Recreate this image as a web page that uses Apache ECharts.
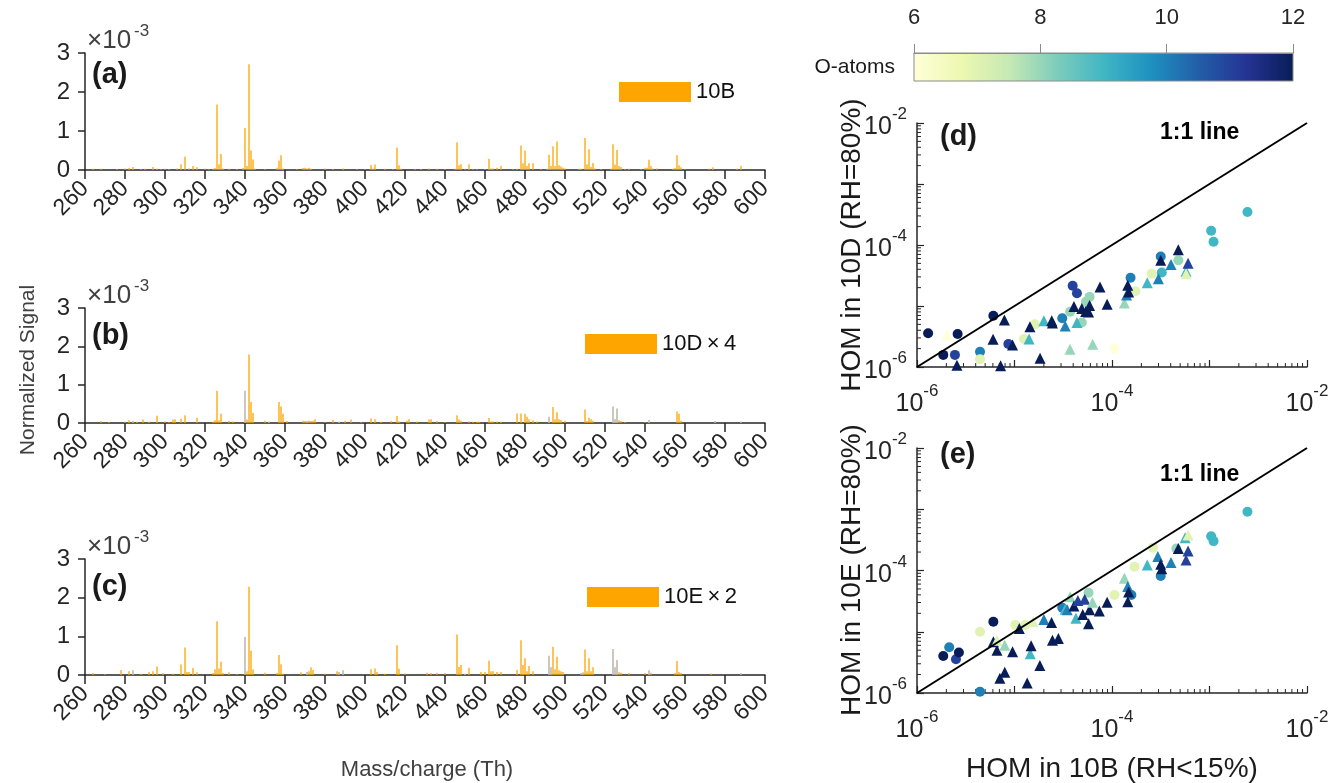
<!DOCTYPE html>
<html><head><meta charset="utf-8">
<script src="https://cdn.jsdelivr.net/npm/echarts@6/dist/echarts.min.js"></script>
<style>html,body{margin:0;padding:0;background:#fff}#c{width:1336px;height:783px}</style>
</head><body><div id="c"></div><script>
// ---------------- DATA ----------------
// Mass spectra, values in units of 1e-3 (normalized signal)
const spec10B = [[264,0.03],[268,0.03],[276,0.02],[280,0.04],[282,0.05],[284,0.08],[288,0.02],[290,0.03],[294,0.08],[296,0.03],[298,0.02],[300,0.03],[302,0.02],[306,0.04],[308,0.15],[310,0.34],[312,0.04],[314,0.1],[316,0.07],[320,0.03],[322,0.02],[324,0.03],[325,0.05],[326,1.68],[327,0.15],[328,0.41],[329,0.04],[332,0.03],[336,0.02],[339,0.05],[340,1.08],[341,0.1],[342,2.71],[343,0.5],[344,0.27],[345,0.03],[350,0.02],[356,0.06],[357,0.24],[358,0.38],[359,0.04],[366,0.02],[369,0.05],[370,0.06],[371,0.04],[372,0.06],[373,0.03],[380,0.04],[384,0.02],[389,0.04],[396,0.02],[400,0.02],[403,0.13],[404,0.03],[405,0.14],[410,0.03],[414,0.02],[416,0.58],[417,0.12],[418,0.03],[425,0.02],[428,0.02],[432,0.04],[436,0.03],[440,0.02],[445,0.03],[446,0.71],[447,0.12],[448,0.15],[450,0.02],[452,0.15],[454,0.02],[456,0.02],[460,0.02],[462,0.29],[463,0.04],[464,0.04],[466,0.06],[468,0.1],[474,0.02],[476,0.03],[478,0.63],[479,0.17],[480,0.5],[481,0.1],[482,0.17],[484,0.17],[488,0.02],[491,0.03],[492,0.39],[493,0.1],[494,0.61],[495,0.1],[496,0.73],[497,0.12],[498,0.09],[499,0.06],[500,0.04],[507,0.03],[508,0.03],[510,0.82],[511,0.15],[512,0.53],[513,0.08],[514,0.18],[515,0.04],[518,0.02],[523,0.03],[524,0.66],[525,0.14],[526,0.51],[527,0.1],[528,0.08],[530,0.02],[532,0.03],[538,0.02],[540,0.05],[541,0.06],[542,0.26],[543,0.1],[544,0.04],[546,0.04],[554,0.03],[555,0.05],[556,0.38],[557,0.12],[558,0.07],[560,0.02],[572,0.03],[574,0.07],[586,0.03],[588,0.1]];

const spec10D = [[268,0.05],[272,0.02],[280,0.03],[282,0.07],[286,0.03],[289,0.09],[292,0.03],[296,0.19],[300,0.04],[302,0.02],[304,0.09],[305,0.1],[308,0.11],[310,0.2],[316,0.14],[324,0.03],[325,0.07],[326,0.84],[327,0.07],[328,0.24],[332,0.06],[334,0.04],[341,0.09],[342,1.79],[343,0.55],[344,0.26],[350,0.06],[357,0.55],[358,0.43],[359,0.24],[361,0.05],[369,0.06],[370,0.05],[372,0.06],[373,0.05],[374,0.06],[375,0.1],[380,0.02],[384,0.08],[390,0.05],[393,0.09],[398,0.02],[403,0.12],[405,0.1],[408,0.03],[413,0.05],[416,0.18],[417,0.04],[421,0.06],[422,0.1],[426,0.04],[432,0.09],[433,0.1],[436,0.05],[440,0.02],[446,0.2],[447,0.09],[448,0.06],[452,0.04],[454,0.03],[456,0.03],[457,0.03],[462,0.13],[463,0.04],[464,0.04],[466,0.04],[468,0.03],[476,0.25],[478,0.25],[480,0.24],[481,0.16],[482,0.1],[484,0.07],[486,0.04],[494,0.42],[495,0.1],[496,0.28],[497,0.1],[498,0.08],[500,0.06],[510,0.35],[511,0.05],[512,0.14],[513,0.1],[514,0.06],[527,0.07],[528,0.05],[530,0.02],[540,0.02],[556,0.3],[557,0.24],[558,0.06]];
const spec10Dgray = [[284,0.05],[340,0.84],[352,0.04],[371,0.05],[387,0.03],[492,0.16],[524,0.43],[525,0.1],[526,0.38],[542,0.08],[575,0.05],[588,0.04]];

const spec10E = [[264,0.05],[270,0.02],[278,0.13],[282,0.1],[288,0.03],[292,0.08],[294,0.1],[296,0.22],[299,0.05],[304,0.03],[308,0.27],[310,0.71],[311,0.08],[312,0.08],[314,0.18],[316,0.07],[324,0.05],[325,0.15],[326,1.39],[327,0.17],[328,0.34],[329,0.05],[332,0.07],[336,0.02],[341,0.1],[342,2.28],[343,0.63],[344,0.14],[350,0.06],[356,0.05],[357,0.52],[358,0.28],[359,0.03],[368,0.07],[372,0.1],[373,0.2],[374,0.13],[380,0.03],[386,0.1],[403,0.15],[405,0.17],[406,0.08],[410,0.03],[416,0.77],[417,0.16],[420,0.04],[431,0.06],[433,0.05],[436,0.06],[440,0.05],[446,1.05],[447,0.21],[448,0.26],[452,0.19],[458,0.08],[460,0.08],[462,0.37],[463,0.1],[464,0.1],[466,0.08],[468,0.08],[476,0.13],[478,0.9],[479,0.26],[480,0.43],[481,0.1],[482,0.23],[484,0.1],[494,0.73],[495,0.15],[496,0.47],[497,0.12],[498,0.1],[499,0.08],[510,0.66],[511,0.1],[512,0.43],[513,0.1],[514,0.2],[527,0.07],[528,0.06],[532,0.05],[540,0.05],[543,0.06],[555,0.05],[556,0.36],[557,0.08],[558,0.05],[573,0.04]];
const spec10Egray = [[284,0.12],[340,0.98],[371,0.08],[387,0.08],[389,0.12],[450,0.03],[492,0.5],[493,0.2],[508,0.05],[509,0.07],[524,0.67],[525,0.2],[526,0.39],[542,0.12],[588,0.05]];

// Scatter: [HOM in 10B, HOM in 10D or 10E, O-atoms]
const dCircles = [[1.3e-6,3.57e-6,12],[2.61e-6,3.47e-6,12],[1.86e-6,1.58e-6,12],[2.45e-6,1.58e-6,11],[4.43e-6,1.78e-6,10],[4.43e-6,1.34e-6,7],[6.07e-6,6.93e-6,12],[8.65e-6,2.38e-6,11],[1.25e-5,2.88e-6,7],[1.62e-5,5.0e-6,7],[3.09e-5,6.31e-6,10],[3.72e-5,8.05e-6,8],[3.95e-5,2.15e-5,11],[4.37e-5,1.62e-5,11],[4.9e-5,5.37e-6,8],[5.41e-5,1.17e-5,8],[5.89e-5,1.41e-5,8],[1.06e-4,2.0e-6,6],[1.55e-4,2.91e-5,10],[1.74e-4,1.74e-5,7],[2.55e-4,3.39e-5,7],[3.16e-4,6.46e-5,10],[3.24e-4,3.55e-5,9],[4.79e-4,5.62e-5,8],[1.04e-3,1.71e-4,9],[1.1e-3,1.13e-4,9],[2.45e-3,3.47e-4,9]];
const dTriangles = [[2.02e-6,3.35e-6,6],[2.57e-6,1.07e-6,12],[7.87e-6,5.89e-6,12],[6.03e-6,2.84e-6,12],[7.21e-6,1.05e-6,12],[9.55e-6,2.29e-6,12],[1.41e-5,2.88e-6,9],[1.44e-5,4.57e-6,12],[1.83e-5,1.39e-6,12],[2.0e-5,5.75e-6,9],[2.41e-5,5.75e-6,12],[2.45e-5,5.25e-6,12],[3.31e-5,4.68e-6,10],[3.71e-5,1.95e-6,8],[4.07e-5,9.77e-6,12],[4.37e-5,5.37e-6,9],[4.9e-5,9.12e-6,12],[5.37e-5,8.13e-6,12],[5.89e-5,1.02e-5,12],[5.75e-5,7.94e-6,12],[6.34e-5,2.36e-6,8],[7.53e-5,2.04e-5,12],[8.91e-5,1.07e-5,12],[1.34e-4,1.12e-5,8],[1.41e-4,1.51e-5,10],[1.45e-4,2.19e-5,12],[1.48e-4,1.7e-5,12],[2.3e-4,2.41e-5,9],[2.99e-4,2.79e-5,10],[3.16e-4,5.62e-5,12],[4.03e-4,4.79e-5,10],[4.79e-4,8.32e-5,12],[5.74e-4,3.72e-5,9],[5.75e-4,3.39e-5,7],[6.03e-4,5.01e-5,11]];
const eCircles = [[1.86e-6,4.02e-6,12],[2.14e-6,5.57e-6,10],[2.51e-6,3.55e-6,11],[2.69e-6,4.57e-6,12],[4.43e-6,1.05e-6,10],[4.43e-6,1.0e-5,7],[6.07e-6,1.46e-5,12],[1.02e-5,1.29e-5,7],[1.29e-5,1.29e-5,7],[3.09e-5,2.47e-5,10],[5.75e-5,4.34e-5,8],[1.06e-4,3.98e-5,7],[1.58e-4,3.98e-5,10],[1.7e-4,1.15e-4,7],[2.63e-4,2.36e-4,7],[3.16e-4,8.13e-5,10],[4.57e-4,2.29e-4,8],[1.04e-3,3.63e-4,9],[1.1e-3,3.02e-4,9],[2.45e-3,9.12e-4,9]];
const eTriangles = [[6.07e-6,6.87e-6,12],[6.61e-6,5.01e-6,12],[6.61e-6,7.24e-6,7],[7.94e-6,6.03e-6,8],[7.94e-6,2.19e-6,12],[7.08e-6,1.74e-6,12],[9.55e-6,4.72e-6,12],[1.12e-5,1.13e-5,12],[1.35e-5,1.45e-6,12],[1.45e-5,4.37e-6,9],[1.48e-5,5.89e-6,12],[1.55e-5,1.45e-5,7],[1.82e-5,2.82e-6,12],[2.0e-5,1.58e-5,10],[2.4e-5,1.41e-5,12],[2.45e-5,7.24e-6,12],[2.82e-5,7.76e-6,12],[3.31e-5,2.34e-5,9],[3.72e-5,3.73e-5,8],[3.47e-5,2.29e-5,10],[4.07e-5,2.63e-5,12],[4.27e-5,1.66e-5,9],[4.47e-5,3.24e-5,11],[5.01e-5,1.91e-5,12],[5.25e-5,3.39e-5,11],[5.89e-5,2.29e-5,12],[5.75e-5,1.35e-5,12],[6.31e-5,3.02e-5,8],[7.41e-5,2.19e-5,12],[8.91e-5,3.02e-5,12],[1.34e-4,7.46e-5,8],[1.45e-4,5.5e-5,10],[1.45e-4,3.09e-5,12],[1.48e-4,4.47e-5,12],[2.3e-4,1.23e-4,9],[2.95e-4,1.7e-4,10],[3.16e-4,1.26e-4,12],[3.24e-4,1.07e-4,12],[4.03e-4,1.35e-4,10],[4.79e-4,2.29e-4,12],[5.62e-4,3.44e-4,9],[6.03e-4,3.8e-4,7],[6.03e-4,2.09e-4,11],[5.75e-4,1.48e-4,11]];

const oneToOne = [[1e-6,1e-6],[1e-2,1e-2]];
const decadeStarts = [1e-6,1e-5,1e-4,1e-3];
const minorMultipliers = [2,3,4,5,6,7,8,9];
const ylgnbu = ['#ffffd9','#edf8b1','#c7e9b4','#7fcdbb','#41b6c4','#1d91c0','#225ea8','#253494','#081d58'];

// ---------------- STYLE ----------------
const FONT = '"Liberation Sans", Arial, Helvetica, sans-serif';
const AX = '#262626';
const ORANGE = '#FFA500';
const GRAY = '#bdb9ad';

const minorVals = [];
decadeStarts.forEach(d => minorMultipliers.forEach(m => minorVals.push([m*d, m*d])));

const supRich = {
  b:{fontSize:25, lineHeight:34, verticalAlign:'bottom', color:AX, fontFamily:FONT},
  s:{fontSize:17, lineHeight:15, verticalAlign:'top', color:AX, fontFamily:FONT}
};
function supFmt(v){
  const e = Math.round(Math.log10(v));
  if (e % 2 !== 0) return '';
  return '{b|10}{s|' + e + '}';
}

function barX(gi){
  return {type:'value', gridIndex:gi, min:260, max:600, interval:20,
    axisLine:{show:true,onZero:false,lineStyle:{color:AX,width:1.5}},
    axisTick:{show:true,length:9,lineStyle:{color:AX,width:1.5}},
    axisLabel:{rotate:45, margin:15, fontSize:23, color:AX, fontFamily:FONT},
    splitLine:{show:false}};
}
function barY(gi){
  return {type:'value', gridIndex:gi, min:0, max:3, interval:1,
    axisLine:{show:true,onZero:false,lineStyle:{color:AX,width:1.5}},
    axisTick:{show:true,length:7,lineStyle:{color:AX,width:1.5}},
    axisLabel:{margin:15, fontSize:24, color:AX, fontFamily:FONT},
    splitLine:{show:false}};
}
function logAx(gi, isX){
  return {type:'log', logBase:10, gridIndex:gi, min:1e-6, max:1e-2,
    axisLine:{show:true,onZero:false,lineStyle:{color:AX,width:1.5}},
    axisTick:{show:true,inside:true,length:7,lineStyle:{color:AX,width:1.2}},
    axisLabel:{formatter:supFmt, rich:supRich, margin: isX ? 16 : 10, color:AX},
    splitLine:{show:false}};
}
function barSeries(name, gi, data, color, opacity){
  return {type:'bar', name:name, xAxisIndex:gi, yAxisIndex:gi, data:data, barWidth:1.6, barGap:'-100%',
    itemStyle:{color:color, opacity:opacity}, silent:true, animation:false};
}
function scatterSeries(name, gi, data, symbol, size){
  return {type:'scatter', name:name, xAxisIndex:gi, yAxisIndex:gi, data:data, symbol:symbol, symbolSize:size,
    clip:false, itemStyle:{opacity:1}, animation:false};
}
function lineSeries(gi){
  return {type:'line', name:'1:1', xAxisIndex:gi, yAxisIndex:gi, data:oneToOne, symbol:'none',
    lineStyle:{color:'#000', width:2}, silent:true, animation:false};
}
function minorSeries(gi){
  return {type:'custom', name:'minor'+gi, xAxisIndex:gi, yAxisIndex:gi, data:minorVals, silent:true, clip:false,
    animation:false,
    renderItem:function(params, api){
      const v = api.value(0);
      const px = api.coord([v, 1e-6]);
      const py = api.coord([1e-6, v]);
      return {type:'group', children:[
        {type:'line', shape:{x1:px[0],y1:px[1],x2:px[0],y2:px[1]-4}, style:{stroke:AX,lineWidth:1}},
        {type:'line', shape:{x1:py[0],y1:py[1],x2:py[0]+4,y2:py[1]}, style:{stroke:AX,lineWidth:1}}
      ]};
    }};
}
function legendFor(name, left, top){
  return {data:[name], left:left, top:top, itemWidth:72, itemHeight:20, padding:0, icon:'rect',
    selectedMode:false, itemStyle:{color:ORANGE, opacity:1},
    textStyle:{fontSize:22, color:'#111', fontFamily:FONT}};
}
function txt(x, y, text, opts){
  opts = opts || {};
  return {type:'text', x:x, y:y, rotation:opts.rot||0, silent:true, z:100,
    style:{text:text, fill:opts.color||'#1a1a1a', font:(opts.bold?'bold ':'') + (opts.size||22) + 'px ' + FONT,
      textAlign:opts.align||'left', textVerticalAlign:opts.valign||'middle',
      align:opts.align||'left', verticalAlign:opts.valign||'middle'}};
}
function expLabel(axisTop){
  return [txt(87, axisTop + 1, '×10', {size:26, valign:'bottom', color:'#404040'}),
          txt(134, axisTop - 13, '-3', {size:17, valign:'bottom', color:'#404040'})];
}

const stops = ylgnbu.map((c,i) => ({offset:i/(ylgnbu.length-1), color:c}));

const chart = echarts.init(document.getElementById('c'), null, {renderer:'canvas'});
chart.setOption({
  backgroundColor:'#fff',
  animation:false,
  textStyle:{fontFamily:FONT},
  grid:[
    {left:85, top:53, width:680, height:117},
    {left:85, top:308, width:680, height:115},
    {left:85, top:559, width:680, height:116},
    {left:917, top:123, width:390, height:244},
    {left:917, top:448, width:390, height:245},
    {left:914, top:53, width:379, height:28}
  ],
  xAxis:[barX(0), barX(1), barX(2), logAx(3,true), logAx(4,true),
    {type:'value', gridIndex:5, position:'top', min:6, max:12, interval:2, z:20,
     axisLine:{show:true,onZero:false,lineStyle:{color:'#8c8c8c',width:1}},
     axisTick:{show:true,inside:false,length:9,lineStyle:{color:'#8c8c8c',width:1}},
     axisLabel:{margin:24, fontSize:22, color:AX, fontFamily:FONT}, splitLine:{show:false}}],
  yAxis:[barY(0), barY(1), barY(2), logAx(3,false), logAx(4,false),
    {type:'value', gridIndex:5, min:0, max:1, show:false}],
  legend:[legendFor('10B',619,81), legendFor('10D\u2009×\u20094',585,333), legendFor('10E\u2009×\u20092',587,586)],
  visualMap:{type:'continuous', show:false, min:6, max:12, dimension:2, seriesIndex:[5,6,9,10],
    inRange:{color:ylgnbu}},
  series:[
    barSeries('10B',0,spec10B,ORANGE,0.82),
    barSeries('10D\u2009×\u20094',1,spec10D,ORANGE,0.82),
    barSeries('gray10D',1,spec10Dgray,GRAY,1),
    barSeries('10E\u2009×\u20092',2,spec10E,ORANGE,0.82),
    barSeries('gray10E',2,spec10Egray,GRAY,1),
    scatterSeries('dC',3,dCircles,'circle',10),
    scatterSeries('dT',3,dTriangles,'triangle',11),
    lineSeries(3),
    minorSeries(3),
    scatterSeries('eC',4,eCircles,'circle',10),
    scatterSeries('eT',4,eTriangles,'triangle',11),
    lineSeries(4),
    minorSeries(4)
  ],
  graphic:[
    {type:'rect', shape:{x:914,y:53,width:379,height:28}, z:-10, silent:true,
      style:{fill:new echarts.graphic.LinearGradient(0,0,1,0,stops), stroke:'#8c8c8c', lineWidth:1}},
    txt(895,67,'O-atoms',{align:'right',size:21}),
    txt(92,75,'(a)',{bold:true,size:29}),
    txt(92,336,'(b)',{bold:true,size:29}),
    txt(92,587,'(c)',{bold:true,size:29}),
    txt(940,137,'(d)',{bold:true,size:29}),
    txt(940,455,'(e)',{bold:true,size:29}),
    txt(1160,133,'1:1 line',{bold:true,size:23,color:'#000'}),
    txt(1160,475,'1:1 line',{bold:true,size:23,color:'#000'}),
    ...expLabel(53), ...expLabel(308), ...expLabel(559),
    txt(28,370,'Normalized Signal',{rot:Math.PI/2,align:'center',size:21,color:'#404040'}),
    txt(427,770,'Mass/charge (Th)',{align:'center',size:22,color:'#404040'}),
    txt(852,245,'HOM in 10D (RH=80%)',{rot:Math.PI/2,align:'center',size:28,color:'#1a1a1a'}),
    txt(852,570,'HOM in 10E (RH=80%)',{rot:Math.PI/2,align:'center',size:28,color:'#1a1a1a'}),
    txt(1112,769,'HOM in 10B (RH<15%)',{align:'center',size:28,color:'#1a1a1a'})
  ]
});
</script></body></html>
